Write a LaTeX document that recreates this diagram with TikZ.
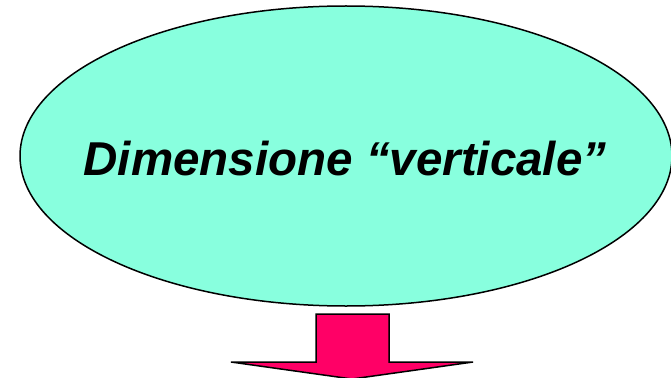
\documentclass[tikz,border=0pt]{standalone}
\usepackage{fontspec}
\setmainfont{Liberation Sans}
\usetikzlibrary{shapes.geometric}
\definecolor{aqua}{RGB}{136,255,222}
\definecolor{pinkred}{RGB}{255,0,102}
\tikzset{
  bubble/.style={ellipse, draw=black, line width=1.5pt, fill=aqua, inner sep=0pt,
    minimum width=652pt, minimum height=300pt},
  blockarrow/.style={draw=black, line width=1.5pt, fill=pinkred, line join=miter},
  label/.style={font=\fontsize{47.5}{57}\selectfont\bfseries\itshape}
}
\begin{document}
\begin{tikzpicture}[x=1pt,y=-1pt]
\useasboundingbox (0,0) rectangle (671,377);
\node[bubble] (ell) at (346,156) {};
\node[label, anchor=base] (txt) at (345,175) {Dimensione “verticale”};
\draw[blockarrow] (316,314) -- (389,314) -- (389,362) -- (473,362) -- (352,379)
  -- (231,362) -- (316,362) -- cycle;
\end{tikzpicture}
\end{document}
